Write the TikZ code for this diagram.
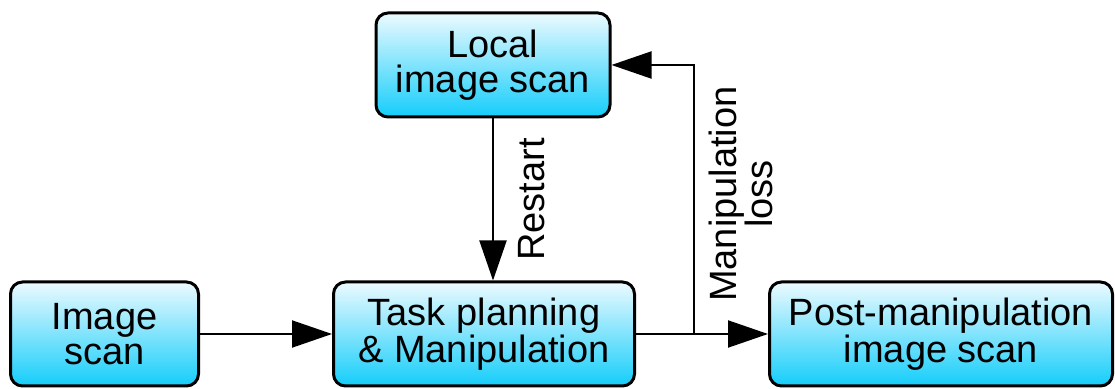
\documentclass[tikz,border=0pt]{standalone}
\usepackage{fontspec}
\setmainfont{Liberation Sans}
\usetikzlibrary{arrows.meta,positioning}
\definecolor{boxtop}{RGB}{236,250,255}
\definecolor{boxbottom}{RGB}{20,205,250}
\tikzset{
    %Define standard arrow tip
    >={Triangle[length=20pt,width=13.5pt]},
    %Define style for boxes
    stage/.style={
           rectangle,
           rounded corners=6pt,
           draw=black, line width=1.5pt,
           top color=boxtop,
           bottom color=boxbottom,
           minimum height=52pt,
           font=\fontsize{19}{17.5}\selectfont,
           align=center,
           inner sep=2pt,
           },
    % Define arrow style
    flow/.style={
           ->,
           line width=1pt,},
    sidelabel/.style={
           rotate=90,
           anchor=north,
           align=center,
           font=\fontsize{19}{18}\selectfont,
           }
}
\begin{document}
\begin{tikzpicture}
\useasboundingbox (0,0) rectangle (557.5pt,-194.5pt);

 %nodes
\node[stage, minimum width=94pt] (scan) at (52.25pt,-167pt) {Image\\scan};
\node[stage, minimum width=150.5pt, right=66pt of scan] (task) {Task planning\\\& Manipulation};
\node[stage, minimum width=171.5pt, right=66pt of task] (post) {Post-manipulation\\image scan};
\node[stage, minimum width=117pt, above=81pt of task, xshift=4.5pt] (local) {Local\\image scan};

 %connectors
\draw[flow] (scan) -- (task);
\draw[flow] (local.south) -- node[sidelabel, midway, inner sep=12pt] {Restart} (local.south |- task.north);
\draw[flow] (task) -- (post);
\draw[flow] (task.east) -- ++(29pt,0) coordinate (split) |- node[sidelabel, pos=0.26, inner sep=7pt] {Manipulation\\loss} (local.east);

\end{tikzpicture}
\end{document}
